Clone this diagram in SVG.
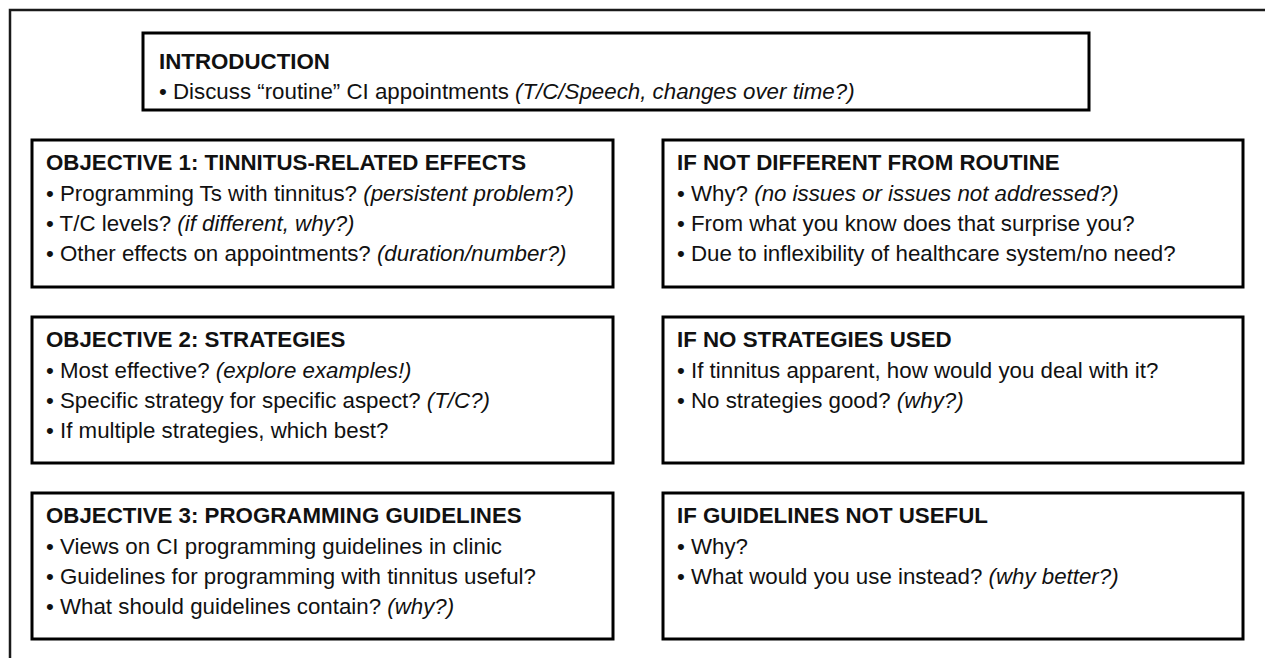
<svg xmlns="http://www.w3.org/2000/svg" width="1265" height="658" viewBox="0 0 1265 658">
<style>
.box{fill:#fff;stroke:#000;stroke-width:3}
.frame{fill:none;stroke:#1a1a1a;stroke-width:2.5}
.t{font-family:"Liberation Sans",Arial,sans-serif;font-size:22.3px;font-weight:bold;fill:#111}
.b{font-family:"Liberation Sans",Arial,sans-serif;font-size:22.3px;fill:#111}
.i{font-style:italic}
</style>
<rect width="1265" height="658" fill="#fff"/>
<path class="frame" d="M10,658 V10 H1265"/>
<g id="intro">
<rect class="box" x="143" y="33" width="946" height="77"/>
<text class="t" x="159" y="69">INTRODUCTION</text>
<text class="b" x="159" y="99">• Discuss “routine” CI appointments <tspan class="i">(T/C/Speech, changes over time?)</tspan></text>
</g>
<g id="obj1">
<rect class="box" x="32" y="140" width="581" height="147"/>
<text class="t" x="46" y="170">OBJECTIVE 1: TINNITUS-RELATED EFFECTS</text>
<text class="b" x="46" y="201">• Programming Ts with tinnitus? <tspan class="i">(persistent problem?)</tspan></text>
<text class="b" x="46" y="231">• T/C levels? <tspan class="i">(if different, why?)</tspan></text>
<text class="b" x="46" y="261">• Other effects on appointments? <tspan class="i">(duration/number?)</tspan></text>
</g>
<g id="notdiff">
<rect class="box" x="663" y="140" width="580" height="147"/>
<text class="t" x="677" y="170">IF NOT DIFFERENT FROM ROUTINE</text>
<text class="b" x="677" y="201">• Why? <tspan class="i">(no issues or issues not addressed?)</tspan></text>
<text class="b" x="677" y="231">• From what you know does that surprise you?</text>
<text class="b" x="677" y="261">• Due to inflexibility of healthcare system/no need?</text>
</g>
<g id="obj2">
<rect class="box" x="32" y="317" width="581" height="146"/>
<text class="t" x="46" y="347">OBJECTIVE 2: STRATEGIES</text>
<text class="b" x="46" y="378">• Most effective? <tspan class="i">(explore examples!)</tspan></text>
<text class="b" x="46" y="408">• Specific strategy for specific aspect? <tspan class="i">(T/C?)</tspan></text>
<text class="b" x="46" y="438">• If multiple strategies, which best?</text>
</g>
<g id="nostrat">
<rect class="box" x="663" y="317" width="580" height="146"/>
<text class="t" x="677" y="347">IF NO STRATEGIES USED</text>
<text class="b" x="677" y="378">• If tinnitus apparent, how would you deal with it?</text>
<text class="b" x="677" y="408">• No strategies good? <tspan class="i">(why?)</tspan></text>
</g>
<g id="obj3">
<rect class="box" x="32" y="493" width="581" height="146"/>
<text class="t" x="46" y="523">OBJECTIVE 3: PROGRAMMING GUIDELINES</text>
<text class="b" x="46" y="554">• Views on CI programming guidelines in clinic</text>
<text class="b" x="46" y="584">• Guidelines for programming with tinnitus useful?</text>
<text class="b" x="46" y="614">• What should guidelines contain? <tspan class="i">(why?)</tspan></text>
</g>
<g id="notuseful">
<rect class="box" x="663" y="493" width="580" height="146"/>
<text class="t" x="677" y="523">IF GUIDELINES NOT USEFUL</text>
<text class="b" x="677" y="554">• Why?</text>
<text class="b" x="677" y="584">• What would you use instead? <tspan class="i">(why better?)</tspan></text>
</g>
<g id="connectors"/>
</svg>
